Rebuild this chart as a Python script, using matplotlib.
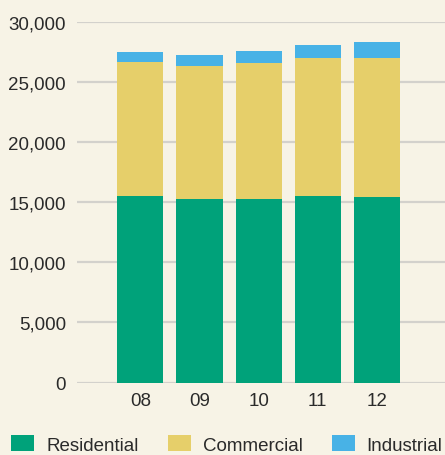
import matplotlib
matplotlib.use("Agg")
import matplotlib.pyplot as plt
import numpy as np

years = ["08", "09", "10", "11", "12"]
residential = [15520, 15270, 15270, 15520, 15440]
commercial = [11200, 11115, 11360, 11530, 11610]
industrial = [830, 910, 995, 1080, 1330]
series_names = ["Residential", "Commercial", "Industrial"]
colors = ["#00a27a", "#e6cf6a", "#48b2e6"]
yticks = [0, 5000, 10000, 15000, 20000, 25000, 30000]

bg = "#f7f3e6"
plt.rcParams['font.family'] = ['Liberation Sans', 'DejaVu Sans']

fig = plt.figure(figsize=(4.45, 4.56), dpi=100, facecolor=bg)
ax = fig.add_axes([77/445, 1-383.5/456, 1-77/445, (383.5-23.3)/456])
ax.set_facecolor(bg)

x = np.arange(len(years))
bottom = np.zeros(len(years))
for name, vals, c in zip(series_names, [residential, commercial, industrial], colors):
    ax.bar(x, vals, width=0.78, bottom=bottom, color=c, label=name, zorder=3)
    bottom += np.array(vals)

ax.set_ylim(0, 30000)
ax.set_xlim(-1.07, 5.15)
ax.set_yticks(yticks)
ax.set_yticklabels([f"{v:,}" for v in yticks])
ax.set_xticks(x)
ax.set_xticklabels(years)
ax.grid(axis='y', color='#d3d1cc', linewidth=1.6, zorder=0)
for s in ax.spines.values():
    s.set_visible(False)
ax.tick_params(axis='both', length=0, labelsize=13.5, labelcolor='#2a2a2a')
ax.tick_params(axis='y', pad=8)
ax.tick_params(axis='x', pad=7)

leg = fig.legend(loc='center left', bbox_to_anchor=(11/445, 1-445.5/456), ncol=3,
                 frameon=False, fontsize=13.5, borderpad=0, borderaxespad=0,
                 handlelength=1.23, handleheight=0.9, handletextpad=0.64,
                 columnspacing=1.55)
for t in leg.get_texts():
    t.set_color('#2a2a2a')

fig.savefig("out.png", dpi=100, facecolor=bg)
